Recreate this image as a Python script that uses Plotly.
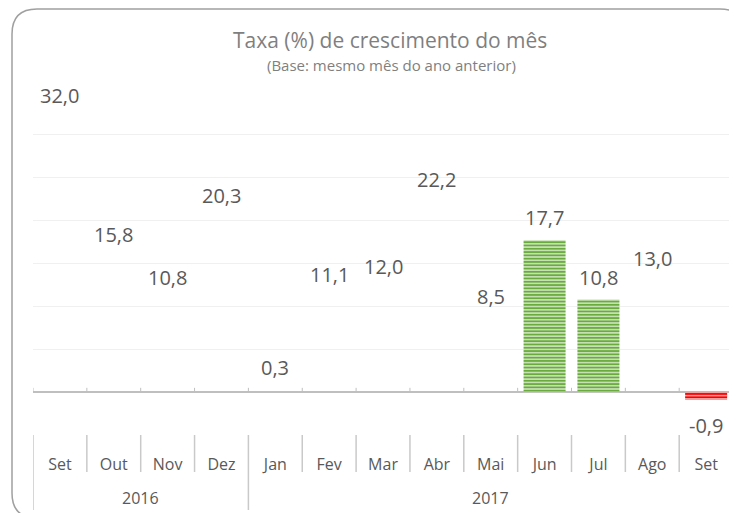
import plotly.graph_objects as go

months = ["Set", "Out", "Nov", "Dez", "Jan", "Fev", "Mar", "Abr", "Mai", "Jun", "Jul", "Ago", "Set"]
years = ["2016", "2017"]
year_counts = [4, 9]
values = [32.0, 15.8, 10.8, 20.3, 0.3, 11.1, 12.0, 22.2, 8.5, 17.7, 10.8, 13.0, -0.9]
visible = [False, False, False, False, False, False, False, False, False, True, True, False, True]

W, H = 729, 513
ML, MR, MT, MB = 33, 0, 92, 78
PW, PH = W - ML - MR, H - MT - MB
CAT_W = 53.85
x_hi = -0.5 + PW / CAT_W


def px(x):
    return (x - ML) / PW


def py(y):
    return (H - MB - y) / PH


xs = list(range(len(months)))
fig = go.Figure()

groups = [
    (lambda v, vis: vis and v >= 0, "#6AAB3E", "#DCEDD0"),
    (lambda v, vis: vis and v < 0, "#FF0000", "#F9C4C4"),
]
for cond, fgc, bgc in groups:
    gx = [x for x, v, vis in zip(xs, values, visible) if cond(v, vis)]
    gy = [v for v, vis in zip(values, visible) if cond(v, vis)]
    fig.add_trace(go.Bar(
        x=gx, y=gy, width=0.78,
        marker=dict(color=bgc, line=dict(width=0),
                    pattern=dict(shape="-", fgcolor=fgc, bgcolor=bgc, fgopacity=1,
                                 size=3.3, solidity=0.6, fillmode="replace")),
        hoverinfo="skip", showlegend=False,
    ))

annotations = []
for i, v in enumerate(values):
    annotations.append(dict(
        x=i, y=v, xref="x", yref="y", text=f"{v:.1f}".replace(".", ","), showarrow=False,
        yshift=22.5 if v >= 0 else -26, yanchor="middle",
        font=dict(family="Open Sans", size=20, color="#595959"),
    ))

# year labels
start = 0
for yr, n in zip(years, year_counts):
    center = start - 0.5 + n / 2
    annotations.append(dict(x=center, y=py(498), xref="x", yref="paper", text=yr, showarrow=False,
                            yanchor="middle", font=dict(family="Open Sans", size=16, color="#595959")))
    start += n

annotations.append(dict(x=px(390), y=py(40), xref="paper", yref="paper",
                        text="Taxa (%) de crescimento do mês", showarrow=False, yanchor="middle",
                        font=dict(family="Open Sans", size=21, color="#7F7F7F")))
annotations.append(dict(x=px(391), y=py(65), xref="paper", yref="paper",
                        text="(Base: mesmo mês do ano anterior)", showarrow=False, yanchor="middle",
                        font=dict(family="Open Sans", size=15, color="#7F7F7F")))

shapes = []
sep_color = "#C9C9C9"
boundaries = [b - 0.5 for b in range(len(months) + 1)]
year_bounds = [-0.5]
acc = -0.5
for n in year_counts:
    acc += n
    year_bounds.append(acc)
for b in boundaries:
    if b > x_hi:
        continue
    bottom = 510 if b in year_bounds else 472
    shapes.append(dict(type="line", xref="x", yref="paper", x0=b, x1=b, y0=py(435), y1=py(bottom),
                       line=dict(color=sep_color, width=1.5)))
    # small tick marks on zero axis
    shapes.append(dict(type="line", xref="x", yref="y", x0=b, x1=b, y0=0, y1=0.5,
                       line=dict(color="#BFBFBF", width=1)))

# rounded border
x0, x1, y0, y1, r = 12, 745, 9, 518, 25
path = (f"M {px(x0)},{py(y0 + r)} Q {px(x0)},{py(y0)} {px(x0 + r)},{py(y0)} "
        f"L {px(x1 - r)},{py(y0)} Q {px(x1)},{py(y0)} {px(x1)},{py(y0 + r)} "
        f"L {px(x1)},{py(y1 - r)} Q {px(x1)},{py(y1)} {px(x1 - r)},{py(y1)} "
        f"L {px(x0 + r)},{py(y1)} Q {px(x0)},{py(y1)} {px(x0)},{py(y1 - r)} Z")
shapes.append(dict(type="path", xref="paper", yref="paper", path=path,
                   line=dict(color="#A0A0A0", width=1.5), layer="below"))

fig.update_layout(
    width=W, height=H, margin=dict(l=ML, r=MR, t=MT, b=MB),
    paper_bgcolor="white", plot_bgcolor="white",
    barmode="overlay",
    xaxis=dict(range=[-0.5, x_hi], tickvals=xs, ticktext=months, ticks="", showgrid=False,
               zeroline=False, showline=False, ticklabelstandoff=18,
               tickfont=dict(family="Open Sans", size=16, color="#595959")),
    yaxis=dict(range=[-5, 35], tickvals=[5, 10, 15, 20, 25, 30, 35], showticklabels=False,
               showgrid=True, gridcolor="#F0F0F0", gridwidth=1,
               zeroline=True, zerolinecolor="#BFBFBF", zerolinewidth=1.5, showline=False),
    annotations=annotations, shapes=shapes,
)

fig.write_html("out.html", config={"displayModeBar": False},
               post_script="document.body.style.margin='0px';document.body.style.overflow='hidden';")
